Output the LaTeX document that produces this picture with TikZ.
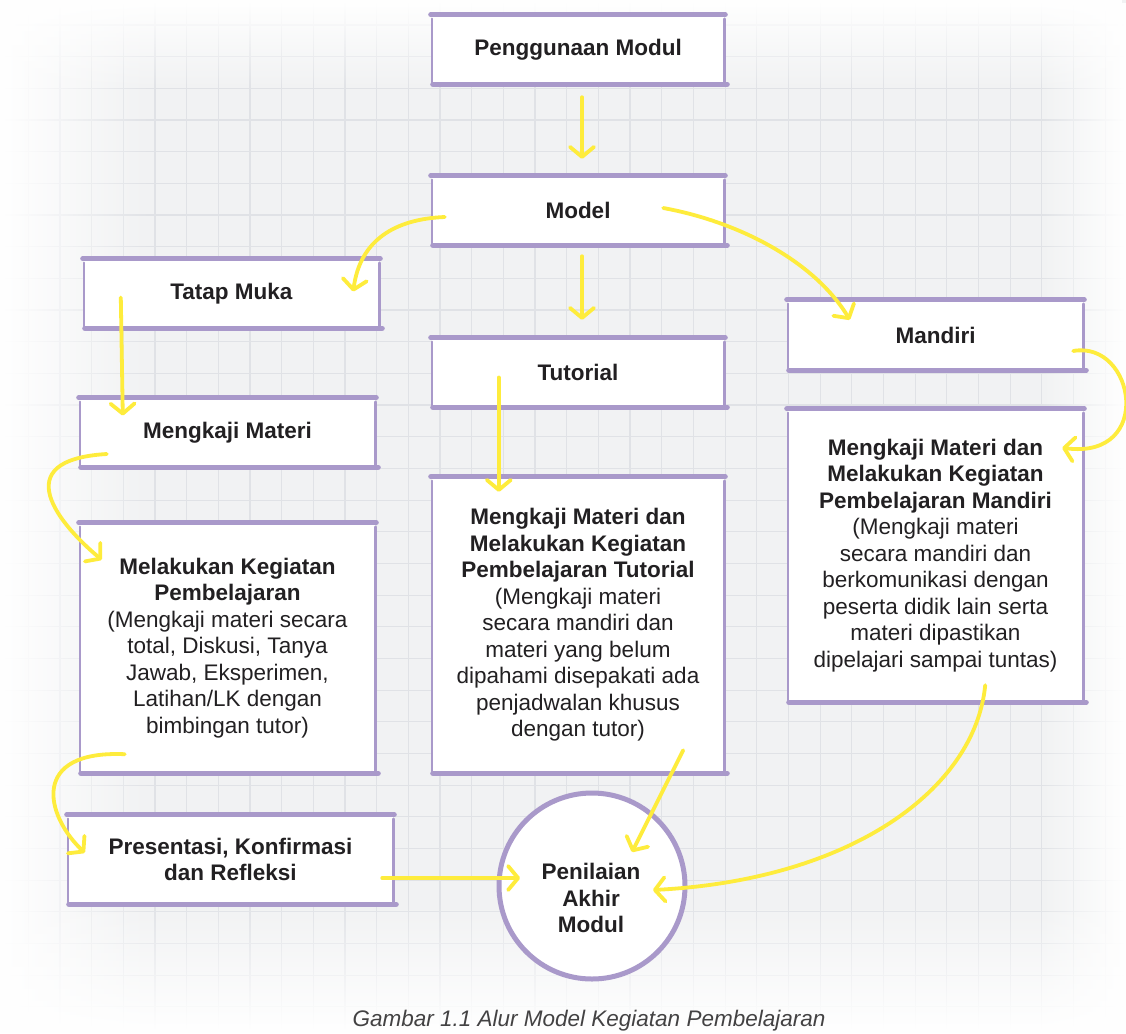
\documentclass[tikz,border=0pt]{standalone}
\usepackage{fontspec}
\setmainfont{Liberation Sans}
\usetikzlibrary{arrows.meta,calc,fadings}
\definecolor{boxpurple}{HTML}{A999CA}
\definecolor{arrowyellow}{HTML}{FEEC3C}
\definecolor{bggray}{HTML}{F1F2F3}
\definecolor{gridgray}{HTML}{E0E2E6}
\definecolor{textdark}{HTML}{222022}
\tikzfading[name=fadeL, left color=transparent!0, right color=transparent!100]
\tikzfading[name=fadeR, left color=transparent!100, right color=transparent!0]
\tikzfading[name=fadeT, top color=transparent!0, bottom color=transparent!100]
\tikzfading[name=fadeB, top color=transparent!100, bottom color=transparent!0]
\newcommand\sketchedges[1]{%
  \draw[sideline] ([yshift=-4pt]#1.north west) -- ([yshift=2pt]#1.south west);
  \draw[sideline] ([yshift=-4pt]#1.north east) -- ([yshift=2pt]#1.south east);
  \draw[barline] ([xshift=-1pt]#1.north west) -- ([xshift=1pt]#1.north east);
  \draw[barline] ([xshift=1pt]#1.south west) -- ([xshift=3pt]#1.south east);
}
\begin{document}
\begin{tikzpicture}[x=1pt,y=-1pt,
  sbox/.style={rectangle, fill=white, inner sep=0pt, align=center, text=textdark,
    font=\fontsize{22.5}{26.5}\selectfont},
  sideline/.style={draw=boxpurple, line width=2.6pt, line cap=round},
  barline/.style={draw=boxpurple, line width=5.2pt, line cap=round},
  gridline/.style={draw=gridgray, line width=1.1pt},
  yarrow/.style={draw=arrowyellow, line width=3.8pt, line cap=round,
    -{Straight Barb[length=10pt,width=24pt,round]}}
]
\useasboundingbox (0,0) rectangle (1126,1033);
% background
\fill[bggray] (0,0) rectangle (1126,1033);
\foreach \i in {0,...,34} \draw[gridline] ({28.3+31.67*\i},0) -- ({28.3+31.67*\i},1033);
\foreach \i in {0,...,32} \draw[gridline] (0,{25+31.67*\i}) -- (1126,{25+31.67*\i});
\fill[white, path fading=fadeL] (0,0) rectangle (150,1033);
\fill[white, path fading=fadeR] (1040,0) rectangle (1126,1033);
\fill[white, path fading=fadeT] (0,0) rectangle (1126,90);
\fill[white, path fading=fadeB] (0,900) rectangle (1126,1033);

% boxes
\node[sbox, minimum width=292pt, minimum height=69pt] (pm) at (578,49.5) {\textbf{Penggunaan Modul}};
\node[sbox, minimum width=292pt, minimum height=69pt] (model) at (578,210.5) {\textbf{Model}};
\node[sbox, minimum width=295pt, minimum height=69pt] (tatap) at (231.5,293.5) {\textbf{Tatap Muka}};
\node[sbox, minimum width=292pt, minimum height=69pt] (tutorial) at (578,372.5) {\textbf{Tutorial}};
\node[sbox, minimum width=295pt, minimum height=70pt] (mandiri) at (935.5,335) {\textbf{Mandiri}};
\node[sbox, minimum width=295pt, minimum height=69pt] (mengkaji) at (227.5,432.5) {\textbf{Mengkaji Materi}};
\node[sbox, minimum width=292pt, minimum height=296pt] (tutbig) at (578,625)
  {\textbf{Mengkaji Materi dan}\\\textbf{Melakukan Kegiatan}\\\textbf{Pembelajaran Tutorial}\\(Mengkaji materi\\secara mandiri dan\\materi yang belum\\dipahami disepakati ada\\penjadwalan khusus\\dengan tutor)};
\node[sbox, minimum width=295pt, minimum height=293pt] (manbig) at (935.5,555.5)
  {\textbf{Mengkaji Materi dan}\\\textbf{Melakukan Kegiatan}\\\textbf{Pembelajaran Mandiri}\\(Mengkaji materi\\secara mandiri dan\\berkomunikasi dengan\\peserta didik lain serta\\materi dipastikan\\dipelajari sampai tuntas)};
\node[sbox, minimum width=295pt, minimum height=250pt] (melakukan) at (227.5,648)
  {\textbf{Melakukan Kegiatan}\\\textbf{Pembelajaran}\\(Mengkaji materi secara\\total, Diskusi, Tanya\\Jawab, Eksperimen,\\Latihan/LK dengan\\bimbingan tutor)};
\node[sbox, minimum width=325pt, minimum height=89pt] (presentasi) at (230.5,859.5)
  {\textbf{Presentasi, Konfirmasi}\\\textbf{dan Refleksi}};

\foreach \b in {pm,model,tatap,tutorial,mandiri,mengkaji,tutbig,manbig,melakukan,presentasi}
  {\sketchedges{\b}}

% final circle
\node[circle, fill=white, draw=boxpurple, line width=5pt, minimum size=186pt, inner sep=0pt] (pen) at (592,886) {};
\node[align=center, text=textdark, font=\bfseries\fontsize{22.5}{26.5}\selectfont] (pentxt) at (591,898) {Penilaian\\Akhir\\Modul};

% connectors
\draw[yarrow] ($(pm.south)+(4,13)$) -- ($(model.north)+(4,-17)$);
\draw[yarrow] ($(model.south)+(4,11)$) -- ($(tutorial.north)+(4,-18)$);
\draw[yarrow] ($(tatap.west)+(37,4)$) -- ($(mengkaji.west)+(43,-17)$);
\draw[yarrow] ($(tutorial.west)+(67,5)$) -- ($(tutbig.north west)+(67,15)$);
\draw[yarrow] ($(model.west)+(13,6.5)$) .. controls (395,219) and (360,240) .. ($(tatap.east)+(-26,-2)$);
\draw[yarrow] ($(model.east)+(-61,-2.5)$) .. controls (740,222) and (815,262) .. ($(mandiri.north west)+(62,20)$);
\draw[yarrow] ($(mandiri.east)+(-10,16)$) .. controls (1135,340) and (1155,460) .. ($(manbig.north east)+(-21,39)$);
\draw[yarrow] ($(mengkaji.west)+(27,21.5)$) .. controls (5,460) and (60,525) .. ($(melakukan.north west)+(22,37)$);
\draw[yarrow] ($(melakukan.south west)+(45,-19)$) .. controls (30,750) and (45,815) .. ($(presentasi.north west)+(17,38)$);
\draw[yarrow] ($(presentasi.east)+(-11,18.5)$) -- ($(pen.center)+(-72,-8)$);
\draw[yarrow] ($(tutbig.south east)+(-41,-23)$) -- ($(pen.center)+(40,-34)$);
\draw[yarrow] ($(manbig.south east)+(-98,-17)$) .. controls (975,790) and (850,880) .. ($(pen.center)+(61,4)$);

% caption
\node[anchor=base, text=textdark!85, font=\itshape\fontsize{22.5}{26}\selectfont] (caption) at (589,1026) {Gambar 1.1 Alur Model Kegiatan Pembelajaran};
\end{tikzpicture}
\end{document}
